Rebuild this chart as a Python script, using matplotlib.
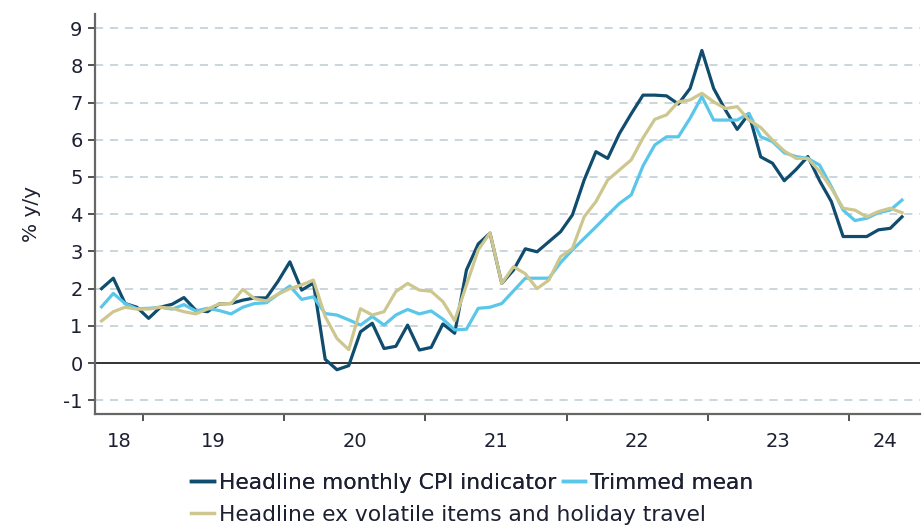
import matplotlib
matplotlib.use("Agg")
import matplotlib.pyplot as plt
from matplotlib.lines import Line2D
import numpy as np

# Monthly data, Sep 2018 .. May 2024
start_year, start_month = 2018, 9
headline = [2.0, 2.28, 1.6, 1.5, 1.2, 1.5, 1.58, 1.76, 1.42, 1.38, 1.59, 1.6,
            1.69, 1.75, 1.75, 2.2, 2.72, 1.96, 2.15, 0.1, -0.18, -0.07, 0.84, 1.07,
            0.39, 0.45, 1.02, 0.35, 0.42, 1.05, 0.8, 2.5, 3.2, 3.49, 2.14, 2.5,
            3.07, 2.99, 3.26, 3.53, 3.98, 4.92, 5.68, 5.5, 6.17, 6.7, 7.2, 7.2,
            7.18, 6.96, 7.38, 8.4, 7.38, 6.8, 6.28, 6.7, 5.54, 5.37, 4.9, 5.2,
            5.55, 4.9, 4.34, 3.4, 3.4, 3.4, 3.58, 3.62, 3.93]
trimmed = [1.51, 1.87, 1.6, 1.46, 1.47, 1.5, 1.45, 1.57, 1.4, 1.47, 1.41, 1.32,
           1.5, 1.6, 1.62, 1.85, 2.07, 1.71, 1.78, 1.33, 1.29, 1.16, 1.02, 1.25,
           1.02, 1.29, 1.44, 1.32, 1.4, 1.18, 0.89, 0.91, 1.47, 1.5, 1.6, 1.94,
           2.28, 2.28, 2.28, 2.7, 3.04, 3.35, 3.66, 3.98, 4.29, 4.52, 5.3, 5.86,
           6.08, 6.08, 6.58, 7.16, 6.53, 6.53, 6.53, 6.71, 6.08, 5.95, 5.65, 5.55,
           5.5, 5.32, 4.74, 4.11, 3.83, 3.89, 4.04, 4.11, 4.38]
ex_volatile = [1.13, 1.38, 1.5, 1.45, 1.45, 1.5, 1.47, 1.38, 1.32, 1.45, 1.59, 1.6,
               1.98, 1.73, 1.67, 1.85, 2.0, 2.1, 2.23, 1.25, 0.66, 0.36, 1.46, 1.29,
               1.38, 1.92, 2.14, 1.96, 1.93, 1.65, 1.14, 2.1, 3.04, 3.5, 2.14, 2.59,
               2.4, 2.0, 2.23, 2.86, 3.08, 3.93, 4.34, 4.92, 5.19, 5.46, 6.05, 6.55,
               6.67, 7.02, 7.07, 7.25, 7.02, 6.84, 6.89, 6.53, 6.33, 5.99, 5.7, 5.5,
               5.5, 5.15, 4.7, 4.16, 4.11, 3.93, 4.07, 4.16, 4.04]
year_labels = ["18", "19", "20", "21", "22", "23", "24"]
y_ticks = [-1, 0, 1, 2, 3, 4, 5, 6, 7, 8, 9]
series_names = ["Headline monthly CPI indicator", "Trimmed mean",
                "Headline ex volatile items and holiday travel"]
colors = ["#0f4c6e", "#5ac6ea", "#cdc78f"]
text_color = "#1c2030"

n = len(headline)
x = np.arange(n)
xmin, xmax = -0.55, n + 0.55

fig = plt.figure(figsize=(9.23, 5.27), dpi=100)
ax = fig.add_axes([0.103, 0.2144, 0.894, 0.759])

ax.set_ylim(-1.37, 9.38)
ax.set_xlim(xmin, xmax)

for yv in y_ticks:
    if yv == 0:
        ax.axhline(0, color="#222222", lw=1.3, zorder=1)
    else:
        ax.axhline(yv, color="#c7d2da", lw=1.3, ls=(0, (4.5, 3.8)), zorder=0)

ax.plot(x, headline, color=colors[0], lw=2.3, zorder=3, solid_joinstyle="round")
ax.plot(x, trimmed, color=colors[1], lw=2.3, zorder=3, solid_joinstyle="round")
ax.plot(x, ex_volatile, color=colors[2], lw=2.3, zorder=4, solid_joinstyle="round")

# year boundaries and centres
first_jan = (12 - start_month + 1) - 0.5  # boundary before Jan 2019
bounds = [first_jan + 12 * k for k in range(len(year_labels) - 1)]
edges = [xmin] + bounds + [xmax]
centres = [(edges[k] + edges[k + 1]) / 2 for k in range(len(year_labels))]

ax.set_xticks(bounds)
ax.set_xticklabels([])
ax.set_xticks(centres, minor=True)
ax.set_xticklabels(year_labels, minor=True)
ax.tick_params(axis="x", which="major", length=5, width=1.3, color="#444444", direction="out")
ax.tick_params(axis="x", which="minor", length=0, pad=13, labelsize=14, labelcolor=text_color)

ax.set_yticks(y_ticks)
ax.set_yticklabels([str(v) for v in y_ticks])
ax.tick_params(axis="y", length=5, width=1.3, color="#444444", direction="out",
               pad=4, labelsize=14, labelcolor=text_color)

for s in ["top", "right"]:
    ax.spines[s].set_visible(False)
for s in ["left", "bottom"]:
    ax.spines[s].set_color("#666666")
    ax.spines[s].set_linewidth(1.6)

ax.set_ylabel("% y/y", fontsize=14.5, color=text_color, labelpad=16)

h = [Line2D([], [], color=c, lw=2.5) for c in colors]
leg1 = fig.legend(h[:2], series_names[:2], loc="center left", ncol=2,
                  bbox_to_anchor=(0.207, 0.0835), frameon=False, fontsize=15.7,
                  handlelength=1.05, handletextpad=0.22, columnspacing=0.3,
                  borderpad=0, borderaxespad=0)
for t in leg1.get_texts():
    t.set_color(text_color)
leg2 = fig.legend(h[2:], series_names[2:], loc="center left",
                  bbox_to_anchor=(0.207, 0.0228), frameon=False, fontsize=15.7,
                  handlelength=1.05, handletextpad=0.22,
                  borderpad=0, borderaxespad=0)
for t in leg2.get_texts():
    t.set_color(text_color)
fig.add_artist(leg1)

fig.savefig("out.png", dpi=100)
